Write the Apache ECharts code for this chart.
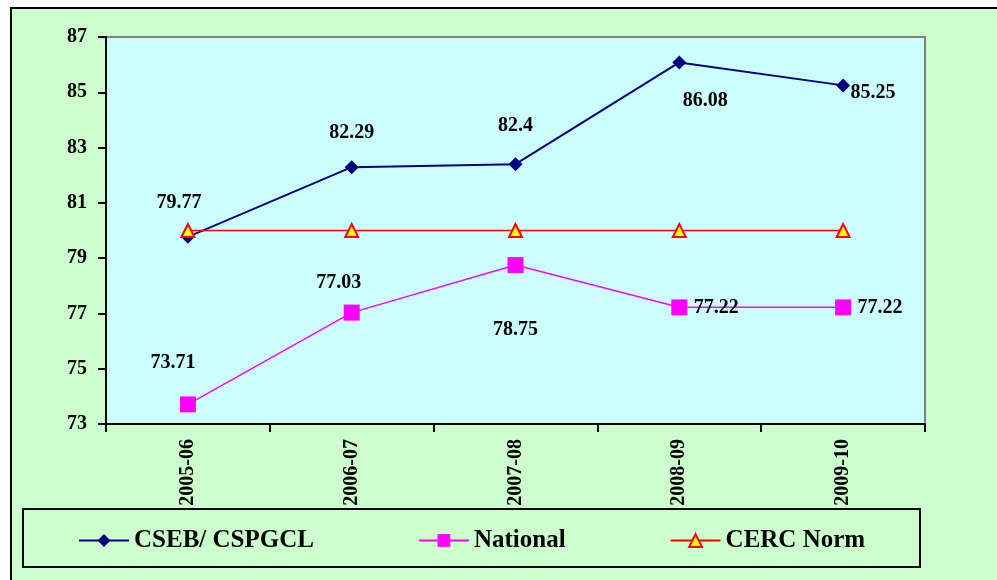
<!DOCTYPE html>
<html>
<head>
<meta charset="utf-8">
<script src="https://cdn.jsdelivr.net/npm/echarts@6/dist/echarts.min.js"></script>
<style>
  html, body { margin: 0; padding: 0; background: #ffffff; }
  #chart { width: 997px; height: 580px; }
</style>
</head>
<body>
<div id="chart"></div>
<script>
// Financial years on the category axis
const years = ['2005-06', '2006-07', '2007-08', '2008-09', '2009-10'];

// Plant load factor (%) per series
const cseb = [79.77, 82.29, 82.4, 86.08, 85.25];
const national = [73.71, 77.03, 78.75, 77.22, 77.22];
const cercNorm = [80, 80, 80, 80, 80];

// Value axis range
const yMin = 73;
const yMax = 87;
const yStep = 2;

// Label placement relative to each point (pixels)
const csebLabelOffsets = [[-9, -34], [0, -34], [0, -38], [26, 38], [30, 7]];
const nationalLabelOffsets = [[-15, -42], [-13, -30], [0, 65], [37, 0], [37, 0]];

const serif = '"Liberation Serif", "Times New Roman", serif';

function labelled(values, offsets) {
  return values.map((v, i) => ({
    value: v,
    label: {
      show: true,
      position: 'inside',
      offset: offsets[i],
      formatter: String(v),
      color: '#000',
      fontFamily: serif,
      fontWeight: 'bold',
      fontSize: 20
    }
  }));
}

const chart = echarts.init(document.getElementById('chart'), null, { renderer: 'canvas' });

chart.setOption({
  backgroundColor: '#ffffff',
  animation: false,
  graphic: [
    {
      type: 'rect',
      z: -10,
      shape: { x: 11, y: 8, width: 1000, height: 600 },
      style: { fill: '#CCFFCC', stroke: '#000', lineWidth: 2 }
    },
    {
      type: 'rect',
      z: -5,
      shape: { x: 23, y: 509, width: 897, height: 58 },
      style: { fill: '#CCFFCC', stroke: '#000', lineWidth: 2 }
    }
  ],
  grid: {
    show: true,
    left: 106,
    top: 37,
    width: 819,
    height: 387,
    backgroundColor: '#CCFFFF',
    borderColor: '#808080',
    borderWidth: 2
  },
  legend: {
    left: 73,
    top: 523,
    itemWidth: 50,
    itemHeight: 16,
    itemGap: 104,
    textStyle: {
      fontFamily: serif,
      fontWeight: 'bold',
      fontSize: 25,
      color: '#000'
    },
    data: ['CSEB/ CSPGCL', 'National', 'CERC Norm']
  },
  xAxis: {
    type: 'category',
    data: years,
    boundaryGap: true,
    axisLine: { lineStyle: { color: '#000', width: 2 } },
    axisTick: { show: true, length: 8, interval: 0, lineStyle: { color: '#000', width: 2 } },
    axisLabel: {
      rotate: 90,
      interval: 0,
      margin: 15,
      color: '#000',
      fontFamily: serif,
      fontWeight: 'bold',
      fontSize: 20
    },
    splitLine: { show: false }
  },
  yAxis: {
    type: 'value',
    min: yMin,
    max: yMax,
    interval: yStep,
    axisLine: { show: true, lineStyle: { color: '#000', width: 2 } },
    axisTick: { show: true, length: 8, lineStyle: { color: '#000', width: 2 } },
    axisLabel: {
      margin: 19,
      color: '#000',
      fontFamily: serif,
      fontWeight: 'bold',
      fontSize: 20
    },
    splitLine: { show: false }
  },
  series: [
    {
      name: 'CSEB/ CSPGCL',
      type: 'line',
      data: labelled(cseb, csebLabelOffsets),
      symbol: 'diamond',
      symbolSize: 14,
      lineStyle: { color: '#000080', width: 2 },
      itemStyle: { color: '#000080' },
      z: 2
    },
    {
      name: 'National',
      type: 'line',
      data: labelled(national, nationalLabelOffsets),
      symbol: 'rect',
      symbolSize: 16,
      lineStyle: { color: '#FF00FF', width: 1.5 },
      itemStyle: { color: '#FF00FF' },
      z: 3
    },
    {
      name: 'CERC Norm',
      type: 'line',
      data: cercNorm,
      symbol: 'triangle',
      symbolSize: 13,
      lineStyle: { color: '#FF0000', width: 1.5 },
      itemStyle: { color: '#FFFF00', borderColor: '#FF0000', borderWidth: 2 },
      z: 4
    }
  ]
});
</script>
</body>
</html>
